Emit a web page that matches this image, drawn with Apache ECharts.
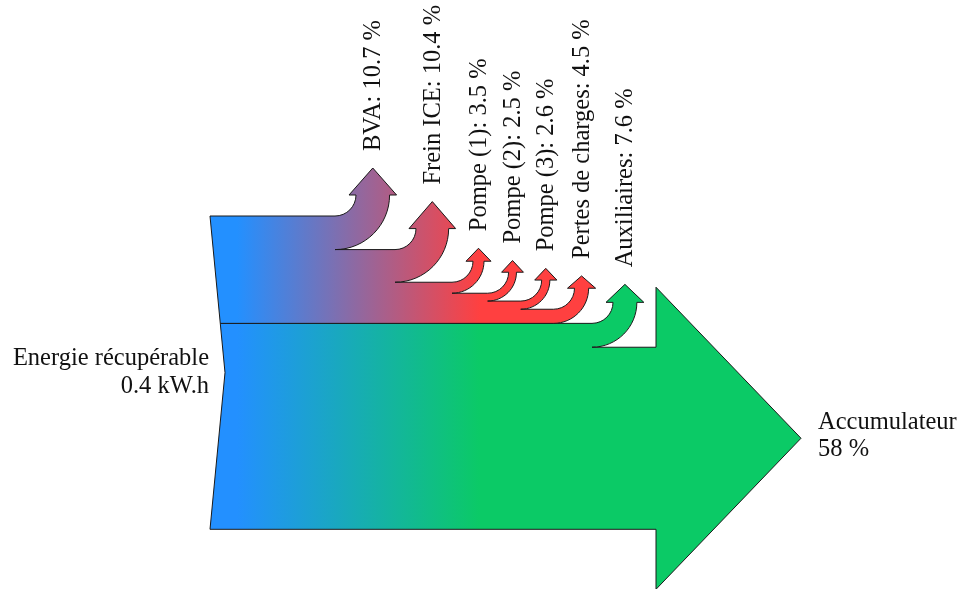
<!DOCTYPE html>
<html><head><meta charset="utf-8">
<script src="https://cdn.jsdelivr.net/npm/echarts@6/dist/echarts.min.js"></script>
<style>html,body{margin:0;padding:0;background:#fff}#c{width:958px;height:589px}</style>
</head><body><div id="c"></div>
<script>
// ---- data ----
const sourceLabel = ['Energie récupérable', '0.4 kW.h'];
const lossNames = ['BVA', 'Frein ICE', 'Pompe (1)', 'Pompe (2)', 'Pompe (3)', 'Pertes de charges', 'Auxiliaires'];
const lossValues = [10.7, 10.4, 3.5, 2.5, 2.6, 4.5, 7.6];
const lossGroup = ['upper', 'upper', 'upper', 'upper', 'upper', 'upper', 'lower'];
const outputName = 'Accumulateur';
const outputValue = 58;

// ---- layout (axis units = pixels) ----
const LAY = {
  top: 216, height: 313.3, left: 210, notch: 15,
  branchX: [335, 395, 452, 487.6, 520.7, 553.5, 592],
  radius: 21, headExt: 7, headLen: [27, 27, 13, 11.7, 11.7, 12.3, 18],
  mainX: 656, mainExt: 60, mainTip: 801, labelGap: 17,
  gradX0: 237, gradX1: 480
};
const COLORS = { blue: '#2390ff', red: '#ff4040', green: '#0bca66', stroke: '#1a1a1a', text: '#111' };
const FONT = { fontSize: 24.5, fontFamily: '"Liberation Serif", serif' };

const chart = echarts.init(document.getElementById('c'));

function renderItem(params, api) {
  const total = lossValues.reduce((a, b) => a + b, 0) + outputValue;
  const K = LAY.height / total;
  const P = (x, y) => api.coord([x, y]);
  const kap = 0.5523;

  function builder() {
    let d = '';
    return {
      M(x, y) { const p = P(x, y); d += 'M' + p[0] + ' ' + p[1] + ' '; },
      L(x, y) { const p = P(x, y); d += 'L' + p[0] + ' ' + p[1] + ' '; },
      C(x1, y1, x2, y2, x, y) {
        const a = P(x1, y1), b = P(x2, y2), c = P(x, y);
        d += 'C' + a[0] + ' ' + a[1] + ' ' + b[0] + ' ' + b[1] + ' ' + c[0] + ' ' + c[1] + ' ';
      },
      Z() { d += 'Z'; },
      get() { return d; }
    };
  }

  const labels = [];
  function branch(b, i, ytop, w) {
    const x0 = LAY.branchX[i], r = LAY.radius, e = LAY.headExt, h = LAY.headLen[i];
    const base = ytop - r;
    const cx = x0 + r + w / 2;
    b.L(x0, ytop);
    b.C(x0 + kap * r, ytop, x0 + r, base + kap * r, x0 + r, base);
    b.L(x0 + r - e, base);
    b.L(cx, base - h);
    b.L(x0 + r + w + e, base);
    b.L(x0 + r + w, base);
    const R = r + w;
    b.C(x0 + R, base + kap * R, x0 + kap * R, base + R, x0, base + R);
    labels.push({ x: cx + 1, y: base - h - LAY.labelGap, text: lossNames[i] + ': ' + lossValues[i] + ' %' });
  }

  const bottom = LAY.top + LAY.height;
  const midY = LAY.top + LAY.height / 2;
  const edgeX = y => y <= midY
    ? LAY.left + LAY.notch * (y - LAY.top) / (midY - LAY.top)
    : LAY.left + LAY.notch * (bottom - y) / (bottom - midY);

  // upper (gradient blue -> red)
  const up = builder();
  up.M(LAY.left, LAY.top);
  let y = LAY.top;
  lossValues.forEach((v, i) => {
    if (lossGroup[i] !== 'upper') return;
    const w = v * K;
    branch(up, i, y, w);
    y += w;
  });
  const sepY = y;
  up.L(edgeX(sepY), sepY);
  up.Z();

  // lower (gradient blue -> green)
  const lo = builder();
  lo.M(edgeX(sepY), sepY);
  lossValues.forEach((v, i) => {
    if (lossGroup[i] !== 'lower') return;
    const w = v * K;
    branch(lo, i, y, w);
    y += w;
  });
  const accTop = y, accBot = y + outputValue * K;
  lo.L(LAY.mainX, accTop);
  lo.L(LAY.mainX, accTop - LAY.mainExt);
  lo.L(LAY.mainTip, (accTop + accBot) / 2);
  lo.L(LAY.mainX, accBot + LAY.mainExt);
  lo.L(LAY.mainX, accBot);
  lo.L(LAY.left, accBot);
  lo.L(LAY.left + LAY.notch, midY);
  lo.Z();

  const gx0 = P(LAY.gradX0, 0)[0], gx1 = P(LAY.gradX1, 0)[0];
  const grad = (c1, c2) => new echarts.graphic.LinearGradient(gx0, 0, gx1, 0,
    [{ offset: 0, color: c1 }, { offset: 1, color: c2 }], true);

  const children = [
    { type: 'path', shape: { pathData: lo.get() },
      style: { fill: grad(COLORS.blue, COLORS.green), stroke: COLORS.stroke, lineWidth: 1, lineJoin: 'miter' } },
    { type: 'path', shape: { pathData: up.get() },
      style: { fill: grad(COLORS.blue, COLORS.red), stroke: COLORS.stroke, lineWidth: 1, lineJoin: 'miter' } }
  ];

  labels.forEach(l => {
    const p = P(l.x, l.y);
    children.push({ type: 'text', x: p[0], y: p[1], rotation: Math.PI / 2,
      style: Object.assign({ text: l.text, fill: COLORS.text, align: 'left', verticalAlign: 'middle' }, FONT) });
  });

  // source label
  const s1 = P(LAY.left - 1, midY - 14), s2 = P(LAY.left - 1, midY + 14);
  children.push({ type: 'text', x: s1[0], y: s1[1], style: Object.assign({ text: sourceLabel[0], fill: COLORS.text, align: 'right', verticalAlign: 'middle' }, FONT) });
  children.push({ type: 'text', x: s2[0], y: s2[1], style: Object.assign({ text: sourceLabel[1], fill: COLORS.text, align: 'right', verticalAlign: 'middle' }, FONT) });

  // output label
  const accMid = (accTop + accBot) / 2;
  const o1 = P(LAY.mainTip + 17, accMid - 16), o2 = P(LAY.mainTip + 17, accMid + 11);
  children.push({ type: 'text', x: o1[0], y: o1[1], style: Object.assign({ text: outputName, fill: COLORS.text, align: 'left', verticalAlign: 'middle' }, FONT) });
  children.push({ type: 'text', x: o2[0], y: o2[1], style: Object.assign({ text: outputValue + ' %', fill: COLORS.text, align: 'left', verticalAlign: 'middle' }, FONT) });

  return { type: 'group', children };
}

chart.setOption({
  animation: false,
  backgroundColor: '#fff',
  grid: { left: 0, right: 0, top: 0, bottom: 0 },
  xAxis: { type: 'value', min: 0, max: 958, show: false },
  yAxis: { type: 'value', min: 0, max: 589, inverse: true, show: false },
  series: [{
    type: 'custom',
    clip: false,
    coordinateSystem: 'cartesian2d',
    data: [[0, 0]],
    renderItem
  }]
});
</script>
</body></html>
